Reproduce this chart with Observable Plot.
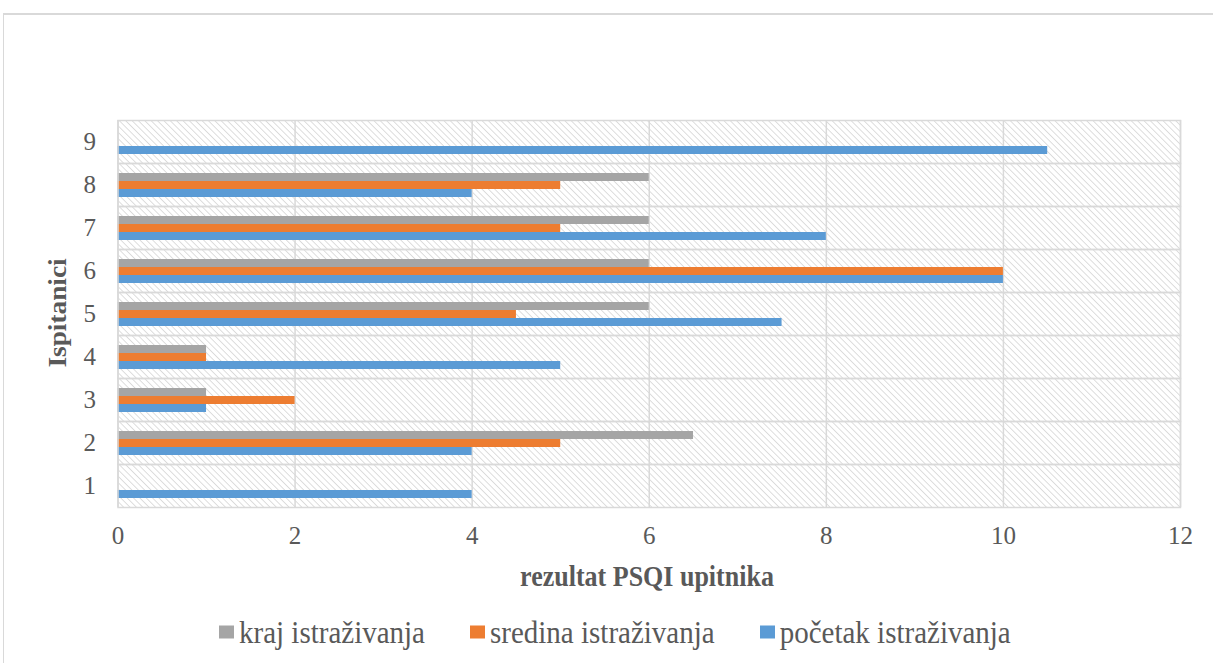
<!DOCTYPE html>
<html>
<head>
<meta charset="utf-8">
<script src="https://cdn.jsdelivr.net/npm/d3@7"></script>
<script src="https://cdn.jsdelivr.net/npm/@observablehq/plot@0.6"></script>
<style>
  html, body { margin: 0; padding: 0; background: #fff; }
  #wrap { position: relative; width: 1213px; height: 663px; overflow: hidden; background: #fff;
          font-family: "Liberation Serif", "DejaVu Serif", serif; color: #595959; }
  #border { position: absolute; left: 3px; top: 13px; width: 1260px; height: 720px;
            border-top: 2px solid #d9d9d9; border-left: 1px solid #d9d9d9; }
  #chart { position: absolute; left: 0; top: 0; }
  #ytitle { position: absolute; left: 58px; top: 313px; transform: translate(-50%, -50%) rotate(-90deg) scaleX(1.05);
            font-weight: bold; font-size: 26px; white-space: nowrap; line-height: 1; }
  #xtitle { position: absolute; left: 647px; top: 577px; transform: translate(-50%, -50%) scaleY(1.12);
            font-weight: bold; font-size: 26px; white-space: nowrap; line-height: 1; }
  #legend { position: absolute; left: 219px; top: 632px; transform: translateY(-50%);
            display: flex; align-items: center; gap: 45px; font-size: 29px; line-height: 1; white-space: nowrap; }
  .item { display: flex; align-items: center; gap: 5px; }
  .item span.txt { display: inline-block; transform: scaleY(1.12); }
  .sw { width: 15px; height: 13px; display: inline-block; }
</style>
</head>
<body>
<div id="wrap">
  <div id="border"></div>
  <div id="chart"></div>
  <div id="ytitle">Ispitanici</div>
  <div id="xtitle">rezultat PSQI upitnika</div>
  <div id="legend"></div>
</div>
<script>
// ---- data ----
const categories = [1, 2, 3, 4, 5, 6, 7, 8, 9];
const seriesNames = ["kraj istraživanja", "sredina istraživanja", "početak istraživanja"];
const kraj    = [null, 6.5, 1, 1, 6,   6,  6, 6, null];
const sredina = [null, 5,   2, 1, 4.5, 10, 5, 5, null];
const pocetak = [4,    4,   1, 5, 7.5, 10, 8, 4, 10.5];
const xTicks = [0, 2, 4, 6, 8, 10, 12];
const seriesColors = ["#A5A5A5", "#ED7D31", "#5B9BD5"];

const seriesValues = [kraj, sredina, pocetak];
const rows = [];
categories.forEach((c, i) => {
  seriesNames.forEach((s, j) => {
    const v = seriesValues[j][i];
    if (v != null) rows.push({cat: c, series: s, value: v});
  });
});

const chart = Plot.plot({
  width: 1213,
  height: 600,
  marginLeft: 117.5,
  marginRight: 33,
  marginTop: 118,
  marginBottom: 91,
  style: {
    fontFamily: "'Liberation Serif', 'DejaVu Serif', serif",
    fontSize: "25px",
    color: "#595959",
    background: "transparent",
    overflow: "visible"
  },
  facet: {data: rows, y: "cat"},
  fy: {domain: categories.slice().reverse(), padding: 0, axis: "left", tickSize: 0, tickPadding: 22, label: null},
  y: {domain: seriesNames, paddingInner: 0, paddingOuter: 0.92, align: 0.55, axis: null},
  x: {domain: [0, 12], ticks: xTicks, tickSize: 0, tickPadding: 19, label: null},
  color: {domain: seriesNames, range: seriesColors},
  marks: [
    Plot.frame({fill: "url(#hatch)", stroke: "none"}),
    Plot.ruleX(xTicks, {stroke: "#d9d9d9", strokeWidth: 1.5}),
    Plot.barX(rows, {x: "value", y: "series", fill: "series"}),
    Plot.frame({stroke: "#d9d9d9", strokeWidth: 1.5})
  ]
});

// hatch pattern definition
const ns = "http://www.w3.org/2000/svg";
const defs = document.createElementNS(ns, "defs");
const pat = document.createElementNS(ns, "pattern");
pat.setAttribute("id", "hatch");
pat.setAttribute("patternUnits", "userSpaceOnUse");
pat.setAttribute("width", "4.5");
pat.setAttribute("height", "4.5");
pat.setAttribute("patternTransform", "rotate(-45)");
const bg = document.createElementNS(ns, "rect");
bg.setAttribute("width", "4.5"); bg.setAttribute("height", "4.5"); bg.setAttribute("fill", "#ffffff");
const ln = document.createElementNS(ns, "line");
ln.setAttribute("x1", "0"); ln.setAttribute("y1", "0");
ln.setAttribute("x2", "0"); ln.setAttribute("y2", "4.5");
ln.setAttribute("stroke", "#d6d6d6"); ln.setAttribute("stroke-width", "1.6");
pat.appendChild(bg); pat.appendChild(ln);
defs.appendChild(pat);
chart.insertBefore(defs, chart.firstChild);

document.getElementById("chart").appendChild(chart);

// legend
const legend = document.getElementById("legend");
seriesNames.forEach((s, i) => {
  const item = document.createElement("div");
  item.className = "item";
  const sw = document.createElement("span");
  sw.className = "sw";
  sw.style.background = seriesColors[i];
  const t = document.createElement("span");
  t.className = "txt";
  t.textContent = s;
  item.appendChild(sw); item.appendChild(t);
  legend.appendChild(item);
});
</script>
</body>
</html>
